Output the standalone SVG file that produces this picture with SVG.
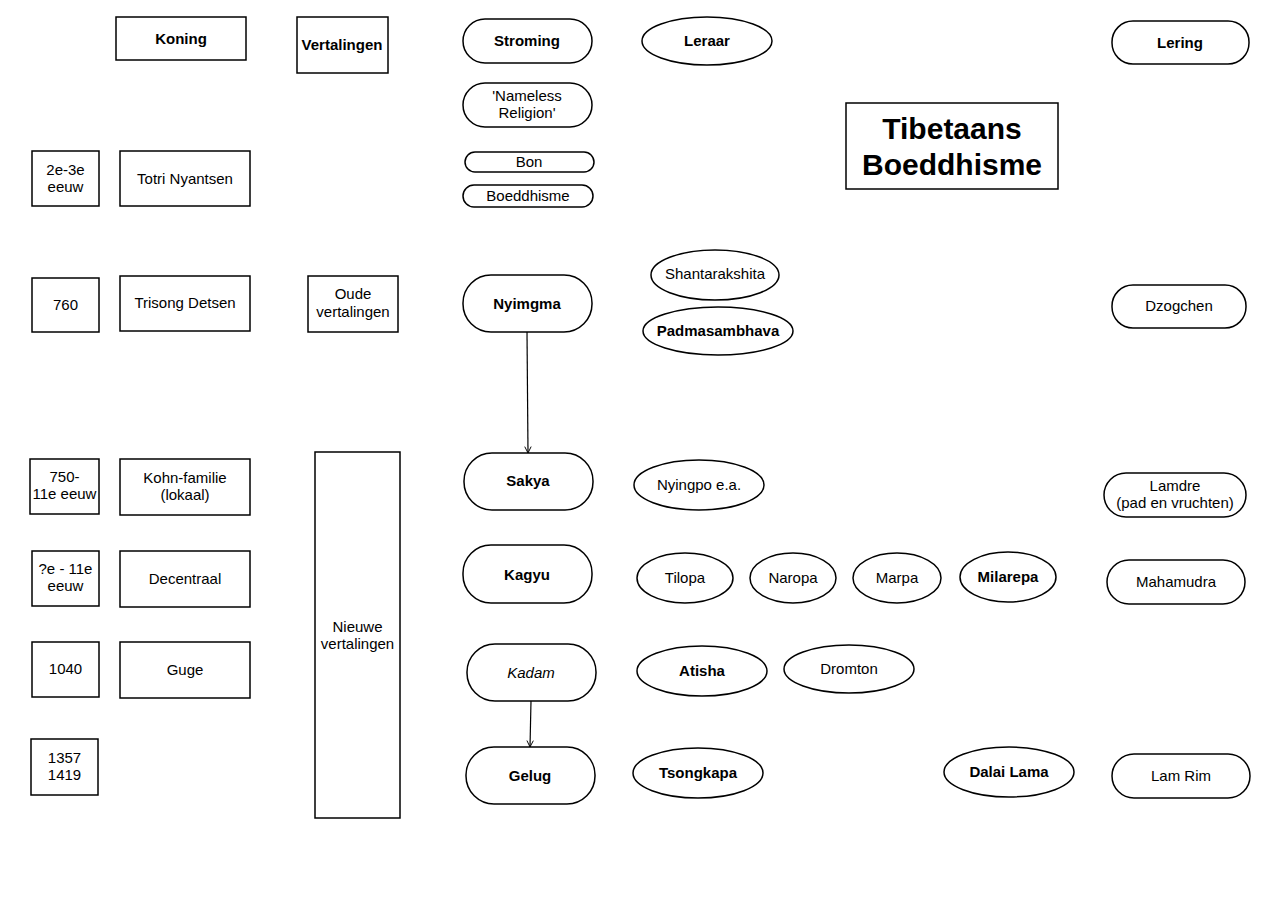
<svg xmlns="http://www.w3.org/2000/svg" width="1280" height="905" viewBox="0 0 1280 905">
<style>
rect, ellipse { fill: #fff; stroke: #000; stroke-width: 1.5; }
text { font-family: "Liberation Sans", Arial, sans-serif; font-size: 15px; text-anchor: middle; fill: #000; }
.b { font-weight: bold; }
.i { font-style: italic; }
.t { font-size: 30px; font-weight: bold; }
.c { stroke: #000; stroke-width: 1.2; fill: none; }
</style>
<defs>
<marker id="arr" viewBox="0 0 10 10" refX="9" refY="5" markerWidth="8" markerHeight="8" orient="auto" markerUnits="userSpaceOnUse">
<path d="M1,1 L9,5 L1,9" fill="none" stroke="#000" stroke-width="1.2"/>
</marker>
</defs>
<rect x="0" y="0" width="1280" height="905" style="stroke:none"/>

<g id="koning"><rect x="116" y="17" width="130" height="43"/><text class="b" x="181" y="44">Koning</text></g>
<g id="vertalingen"><rect x="297" y="17" width="91" height="56"/><text class="b" x="342" y="50">Vertalingen</text></g>
<g id="titel"><rect x="846" y="103" width="212" height="86"/><text class="t" x="952" y="139">Tibetaans</text><text class="t" x="952" y="175">Boeddhisme</text></g>

<g id="d1"><rect x="32" y="151" width="67" height="55"/><text x="65.5" y="175">2e-3e</text><text x="65.5" y="192">eeuw</text></g>
<g id="k1"><rect x="120" y="151" width="130" height="55"/><text x="185" y="184">Totri Nyantsen</text></g>
<g id="d2"><rect x="32" y="278" width="67" height="54"/><text x="65.5" y="310">760</text></g>
<g id="k2"><rect x="120" y="276" width="130" height="55"/><text x="185" y="308">Trisong Detsen</text></g>
<g id="oude"><rect x="308" y="276" width="90" height="56"/><text x="353" y="299">Oude</text><text x="353" y="317">vertalingen</text></g>
<g id="d3"><rect x="30" y="459" width="69" height="55"/><text x="64.5" y="482">750-</text><text x="64.5" y="499">11e eeuw</text></g>
<g id="k3"><rect x="120" y="459" width="130" height="56"/><text x="185" y="483">Kohn-familie</text><text x="185" y="500">(lokaal)</text></g>
<g id="d4"><rect x="32" y="551" width="67" height="55"/><text x="65.5" y="574">?e - 11e</text><text x="65.5" y="591">eeuw</text></g>
<g id="k4"><rect x="120" y="551" width="130" height="56"/><text x="185" y="584">Decentraal</text></g>
<g id="d5"><rect x="32" y="642" width="67" height="55"/><text x="65.5" y="674">1040</text></g>
<g id="k5"><rect x="120" y="642" width="130" height="56"/><text x="185" y="675">Guge</text></g>
<g id="d6"><rect x="31" y="739" width="67" height="56"/><text x="64.5" y="763">1357</text><text x="64.5" y="780">1419</text></g>
<g id="nieuwe"><rect x="315" y="452" width="85" height="366"/><text x="357.5" y="632">Nieuwe</text><text x="357.5" y="649">vertalingen</text></g>

<g id="stroming"><rect x="463" y="19" width="129" height="44" rx="22"/><text class="b" x="527" y="46">Stroming</text></g>
<g id="nameless"><rect x="463" y="83" width="129" height="44" rx="22"/><text x="527" y="101">'Nameless</text><text x="527" y="118">Religion'</text></g>
<g id="bon"><rect x="465" y="152" width="129" height="20" rx="10"/><text x="529" y="167">Bon</text></g>
<g id="boeddhisme"><rect x="463" y="185" width="130" height="22" rx="11"/><text x="528" y="201">Boeddhisme</text></g>
<g id="nyimgma"><rect x="463" y="275" width="129" height="57" rx="28"/><text class="b" x="527" y="309">Nyimgma</text></g>
<g id="sakya"><rect x="464" y="453" width="129" height="57" rx="28"/><text class="b" x="528" y="486">Sakya</text></g>
<g id="kagyu"><rect x="463" y="545" width="129" height="58" rx="28"/><text class="b" x="527" y="580">Kagyu</text></g>
<g id="kadam"><rect x="467" y="644" width="129" height="57" rx="28"/><text class="i" x="531" y="678">Kadam</text></g>
<g id="gelug"><rect x="466" y="747" width="129" height="57" rx="28"/><text class="b" x="530" y="781">Gelug</text></g>

<g id="leraar"><ellipse cx="707" cy="41" rx="65" ry="24"/><text class="b" x="707" y="46">Leraar</text></g>
<g id="shantarakshita"><ellipse cx="715" cy="275" rx="64" ry="25"/><text x="715" y="279">Shantarakshita</text></g>
<g id="padmasambhava"><ellipse cx="718" cy="331" rx="75" ry="24"/><text class="b" x="718" y="336">Padmasambhava</text></g>
<g id="nyingpo"><ellipse cx="699" cy="485" rx="65" ry="25"/><text x="699" y="490">Nyingpo e.a.</text></g>
<g id="tilopa"><ellipse cx="685" cy="578" rx="48" ry="25"/><text x="685" y="583">Tilopa</text></g>
<g id="naropa"><ellipse cx="793" cy="578" rx="43" ry="25"/><text x="793" y="583">Naropa</text></g>
<g id="marpa"><ellipse cx="897" cy="578" rx="44" ry="25"/><text x="897" y="583">Marpa</text></g>
<g id="milarepa"><ellipse cx="1008" cy="577" rx="48" ry="25"/><text class="b" x="1008" y="582">Milarepa</text></g>
<g id="atisha"><ellipse cx="702" cy="671" rx="65" ry="25"/><text class="b" x="702" y="676">Atisha</text></g>
<g id="dromton"><ellipse cx="849" cy="669" rx="65" ry="24"/><text x="849" y="674">Dromton</text></g>
<g id="tsongkapa"><ellipse cx="698" cy="773" rx="65" ry="25"/><text class="b" x="698" y="778">Tsongkapa</text></g>
<g id="dalailama"><ellipse cx="1009" cy="772" rx="65" ry="25"/><text class="b" x="1009" y="777">Dalai Lama</text></g>

<g id="lering"><rect x="1112" y="21" width="137" height="43" rx="21"/><text class="b" x="1180" y="48">Lering</text></g>
<g id="dzogchen"><rect x="1112" y="285" width="134" height="43" rx="21"/><text x="1179" y="311">Dzogchen</text></g>
<g id="lamdre"><rect x="1104" y="473" width="142" height="44" rx="22"/><text x="1175" y="491">Lamdre</text><text x="1175" y="508">(pad en vruchten)</text></g>
<g id="mahamudra"><rect x="1107" y="560" width="138" height="44" rx="22"/><text x="1176" y="587">Mahamudra</text></g>
<g id="lamrim"><rect x="1112" y="754" width="138" height="44" rx="22"/><text x="1181" y="781">Lam Rim</text></g>

<g id="connectors">
<line class="c" x1="527" y1="332" x2="528" y2="453" marker-end="url(#arr)"/>
<line class="c" x1="531" y1="701" x2="530" y2="747" marker-end="url(#arr)"/>
</g>
</svg>
